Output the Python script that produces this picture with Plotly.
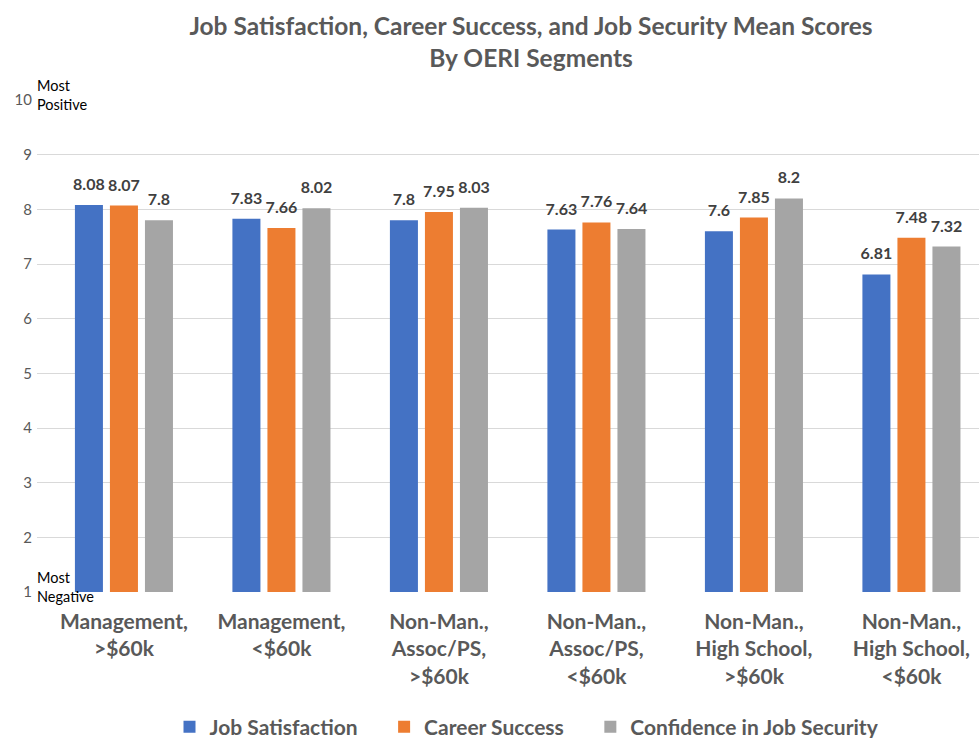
import plotly.graph_objects as go

categories = ["Management,<br>>$60k", "Management,<br><$60k", "Non-Man.,<br>Assoc/PS,<br>>$60k",
              "Non-Man.,<br>Assoc/PS,<br><$60k", "Non-Man.,<br>High School,<br>>$60k",
              "Non-Man.,<br>High School,<br><$60k"]
job_satisfaction = [8.08, 7.83, 7.8, 7.63, 7.6, 6.81]
career_success = [8.07, 7.66, 7.95, 7.76, 7.85, 7.48]
job_security = [7.8, 8.02, 8.03, 7.64, 8.2, 7.32]
series_names = ["Job Satisfaction", "Career Success", "Confidence in Job Security"]
colors = ["#4472C4", "#ED7D31", "#A5A5A5"]
y_ticks = [1, 2, 3, 4, 5, 6, 7, 8, 9, 10]

FONT = "Lato"
W, H = 979, 738
L, R, T, B = 37, 0, 100, 146
PAD = "\u00a0" * 4

fig = go.Figure()
xs = list(range(len(categories)))
series = [job_satisfaction, career_success, job_security]
for i, (name, vals, col) in enumerate(zip(series_names, series, colors)):
    label = f"<b>{name}</b>" + (PAD if i < len(series_names) - 1 else "")
    fig.add_trace(go.Bar(
        x=xs, y=vals, name=label, marker=dict(color=col, line=dict(width=0)),
        offsetgroup=str(i), base=0,
    ))
for i, vals in enumerate(series):
    fig.add_trace(go.Scatter(
        x=xs, y=vals, mode="markers+text", text=[f"<b>{v:g}</b>" for v in vals],
        textposition="top center", offsetgroup=str(i), showlegend=False, cliponaxis=False,
        marker=dict(size=16, color="rgba(0,0,0,0)", line=dict(width=0)),
        textfont=dict(family=FONT, size=16, color="#404040"), hoverinfo="skip",
    ))

fig.update_layout(
    width=W, height=H,
    margin=dict(l=L, r=R, t=T, b=B, autoexpand=False),
    paper_bgcolor="white", plot_bgcolor="white",
    barmode="group", bargap=0.333, bargroupgap=0.2,
    scattermode="group", scattergap=0.333,
    title=dict(text="<b>Job Satisfaction, Career Success, and Job Security Mean Scores<br>By OERI Segments</b>",
               x=531 / W, xanchor="center", xref="container", y=1 - 35 / H, yanchor="middle", yref="container",
               font=dict(family=FONT, size=24.5, color="#595959")),
    legend=dict(orientation="h", x=(527 - L) / (W - L), xanchor="center", y=(592 - 727) / 492, yanchor="middle",
                font=dict(family=FONT, size=21, color="#595959"),
                itemwidth=30, traceorder="normal", tracegroupgap=0),
    xaxis=dict(range=[-0.552, 5.429], tickmode="array", tickvals=xs,
               ticktext=[f"<b>{c}</b>" for c in categories],
               tickfont=dict(family=FONT, size=21, color="#595959"),
               showgrid=False, zeroline=False, showline=False, ticks="", fixedrange=True,
               ticklabelstandoff=15),
    yaxis=dict(range=[1, 10], tickmode="array", tickvals=y_ticks, ticktext=[str(t) for t in y_ticks],
               tickfont=dict(family=FONT, size=15, color="#595959"),
               showgrid=True, gridcolor="#D9D9D9", gridwidth=1, zeroline=False, showline=False, ticks="",
               ticklabelstandoff=4),
)

for txt, yv in [("Most<br>Positive", 10), ("Most<br>Negative", 1)]:
    fig.add_annotation(text=txt, x=0, xref="paper", xanchor="left", y=yv, yref="y", yanchor="middle",
                       showarrow=False, align="left", xshift=-2, yshift=5,
                       font=dict(family=FONT, size=14.5, color="#000000"))

fig.write_html("out.html")
